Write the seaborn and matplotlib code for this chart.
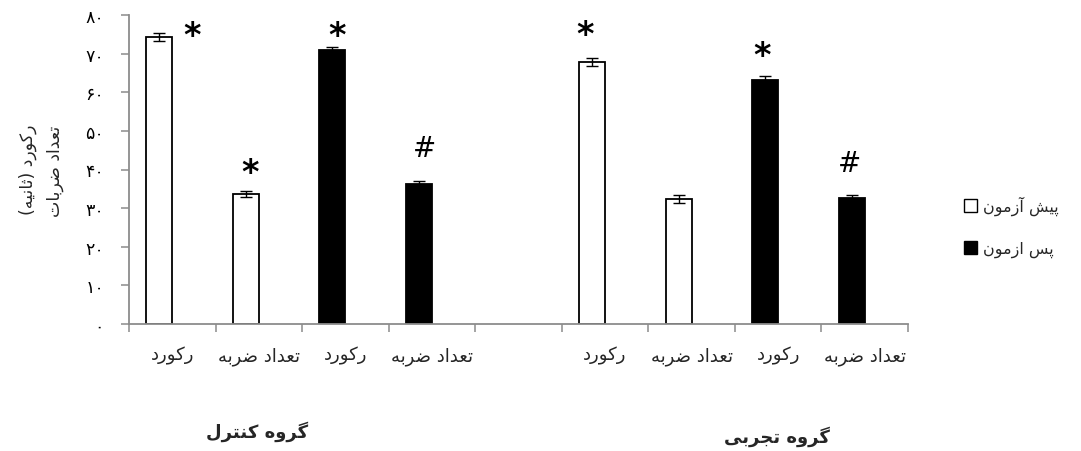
import matplotlib
matplotlib.use("Agg")
import matplotlib.pyplot as plt
import numpy as np
import pandas as pd
import seaborn as sns
from matplotlib.patches import Patch

# ---- data ----
group_names = ["گروه کنترل", "گروه تجربی"]
measure_names = ["رکورد", "تعداد ضربه"]
phase_names = ["پیش آزمون", "پس ازمون"]

# mean values [record, hit count]
control_pre = [74.3, 33.7]
control_post = [70.9, 36.2]
experimental_pre = [67.9, 32.4]
experimental_post = [63.3, 32.5]

# standard errors [record, hit count]
control_pre_se = [1.1, 0.8]
control_post_se = [0.8, 0.8]
experimental_pre_se = [1.0, 1.0]
experimental_post_se = [0.8, 0.9]

# significance marks, order: pre-record, pre-hits, post-record, post-hits
control_marks = ["*", "*", "*", "#"]
experimental_marks = ["*", "", "*", "#"]

y_ticks = [0, 10, 20, 30, 40, 50, 60, 70, 80]
y_label_lines = ["رکورد (ثانیه)", "تعداد ضربات"]


# ---- simple Persian shaping (presentation forms + visual order) ----
FORMS = {
    "ا": (0xFE8D, 0xFE8E, None, None),
    "آ": (0xFE81, 0xFE82, None, None),
    "د": (0xFEA9, 0xFEAA, None, None),
    "ذ": (0xFEAB, 0xFEAC, None, None),
    "ر": (0xFEAD, 0xFEAE, None, None),
    "ز": (0xFEAF, 0xFEB0, None, None),
    "و": (0xFEED, 0xFEEE, None, None),
    "ب": (0xFE8F, 0xFE90, 0xFE91, 0xFE92),
    "پ": (0xFB56, 0xFB57, 0xFB58, 0xFB59),
    "ت": (0xFE95, 0xFE96, 0xFE97, 0xFE98),
    "ث": (0xFE99, 0xFE9A, 0xFE9B, 0xFE9C),
    "ج": (0xFE9D, 0xFE9E, 0xFE9F, 0xFEA0),
    "س": (0xFEB1, 0xFEB2, 0xFEB3, 0xFEB4),
    "ش": (0xFEB5, 0xFEB6, 0xFEB7, 0xFEB8),
    "ض": (0xFEBD, 0xFEBE, 0xFEBF, 0xFEC0),
    "ع": (0xFEC9, 0xFECA, 0xFECB, 0xFECC),
    "ک": (0xFB8E, 0xFB8F, 0xFB90, 0xFB91),
    "گ": (0xFB92, 0xFB93, 0xFB94, 0xFB95),
    "ل": (0xFEDD, 0xFEDE, 0xFEDF, 0xFEE0),
    "م": (0xFEE1, 0xFEE2, 0xFEE3, 0xFEE4),
    "ن": (0xFEE5, 0xFEE6, 0xFEE7, 0xFEE8),
    "ه": (0xFEE9, 0xFEEA, 0xFEEB, 0xFEEC),
    "ی": (0xFBFC, 0xFBFD, 0xFBFE, 0xFBFF),
}
MIRROR = {"(": ")", ")": "("}


def shape(text):
    out = []
    for i, c in enumerate(text):
        if c not in FORMS:
            out.append(MIRROR.get(c, c))
            continue
        prev = text[i - 1] if i > 0 else ""
        nxt = text[i + 1] if i + 1 < len(text) else ""
        iso, fin, ini, med = FORMS[c]
        join_prev = prev in FORMS and FORMS[prev][2] is not None
        join_next = ini is not None and nxt in FORMS
        if join_prev and join_next:
            code = med
        elif join_prev:
            code = fin
        elif join_next:
            code = ini
        else:
            code = iso
        out.append(chr(code))
    return "".join(reversed(out))


PERSIAN_DIGITS = str.maketrans("0123456789", "۰۱۲۳۴۵۶۷۸۹")

# ---- long table ----
groups = [
    (control_pre, control_post, control_pre_se, control_post_se, control_marks),
    (experimental_pre, experimental_post, experimental_pre_se, experimental_post_se, experimental_marks),
]
rows = []
slots_per_group = 2 * len(measure_names) + 1
for g, (pre, post, pre_se, post_se, marks) in enumerate(groups):
    k = 0
    for p, (vals, ses) in enumerate([(pre, pre_se), (post, post_se)]):
        for m, (v, s) in enumerate(zip(vals, ses)):
            slot = g * slots_per_group + p * len(measure_names) + m
            rows.append(dict(slot=slot, pos=slot + 0.35, value=v, se=s,
                             phase=phase_names[p], measure=measure_names[m],
                             mark=marks[k]))
            k += 1
df = pd.DataFrame(rows)
n_slots = 2 * slots_per_group - 1

# ---- figure ----
sns.set_style("white")
plt.rcParams["font.family"] = ["DejaVu Sans"]

W, H = 1081, 452
fig = plt.figure(figsize=(W / 100, H / 100), dpi=100)
ax = fig.add_axes([129 / W, 1 - 325 / H, (908 - 129) / W, (325 - 16) / H])

sns.barplot(data=df, x="pos", y="value", hue="phase", hue_order=phase_names,
            native_scale=True, dodge=False, width=0.3, errorbar=None,
            palette={phase_names[0]: "white", phase_names[1]: "black"},
            edgecolor="black", linewidth=1.3, legend=False, ax=ax)

ax.errorbar(df["pos"], df["value"], yerr=df["se"], fmt="none",
            ecolor="black", elinewidth=1.0, capsize=4.3, capthick=1.0, zorder=5)

# significance marks above bars (offsets in points: dx, dy of baseline)
mark_offsets = [
    [(23.8, -9.1), (2.9, 6.3), (3.6, 1.2), (4.0, 18.0)],
    [(-5.0, 9.9), (0, 0), (-2.2, 7.9), (-1.4, 17.3)],
]
for g in range(2):
    sub = df[df["slot"] // slots_per_group == g].reset_index(drop=True)
    offs = mark_offsets[g]
    for i, r in sub.iterrows():
        if not r["mark"]:
            continue
        bold = r["mark"] == "*"
        ax.annotate(r["mark"], xy=(r["pos"], r["value"] + r["se"]),
                    xytext=offs[i], textcoords="offset points",
                    ha="center", va="baseline",
                    fontsize=24 if bold else 20,
                    fontweight="bold" if bold else "normal", color="black")

ax.set_xlim(0, n_slots)
ax.set_ylim(0, 80)
ax.set_yticks(y_ticks)
ax.set_yticklabels([str(t).translate(PERSIAN_DIGITS) for t in y_ticks])
ax.set_xticks(np.arange(0, n_slots + 1))
ax.set_xticklabels([])
label_pos = [s + 0.5 for s in df["slot"]]
ax.set_xticks(label_pos, minor=True)
ax.set_xticklabels([shape(m) for m in df["measure"]], minor=True)
ax.set_xlabel("")
ax.set_ylabel("")

grey = "#8c8c8c"
sns.despine(ax=ax)
for side in ["left", "bottom"]:
    ax.spines[side].set_color(grey)
    ax.spines[side].set_linewidth(1.3)
ax.tick_params(axis="both", which="major", direction="out", length=6,
               width=1.1, color=grey, labelsize=12.5, labelcolor="black",
               bottom=True, left=True)
ax.tick_params(axis="y", pad=12)
ax.tick_params(axis="x", which="minor", length=0, pad=16, labelsize=13,
               bottom=True)

# group titles
fig.text(257 / W, 1 - 432 / H, shape(group_names[0]), ha="center", va="center",
         fontsize=13, fontweight="bold")
fig.text(777 / W, 1 - 437 / H, shape(group_names[1]), ha="center", va="center",
         fontsize=13, fontweight="bold")

# y axis title (two rotated lines)
fig.text(28 / W, 1 - 170 / H, shape(y_label_lines[0]), rotation=90,
         ha="center", va="center", fontsize=12.5)
fig.text(55 / W, 1 - 171 / H, shape(y_label_lines[1]), rotation=90,
         ha="center", va="center", fontsize=12.5)

# legend
handles = [Patch(facecolor="white", edgecolor="black", linewidth=1.0),
           Patch(facecolor="black", edgecolor="black", linewidth=1.0)]
fig.legend(handles, [shape(p) for p in phase_names], loc="upper left",
           bbox_to_anchor=(964 / W, 1 - 197 / H), frameon=False,
           fontsize=11.5, handlelength=0.8, handleheight=0.8,
           handletextpad=0.4, labelspacing=1.6, borderaxespad=0, borderpad=0)

fig.savefig("out.png", dpi=100)
